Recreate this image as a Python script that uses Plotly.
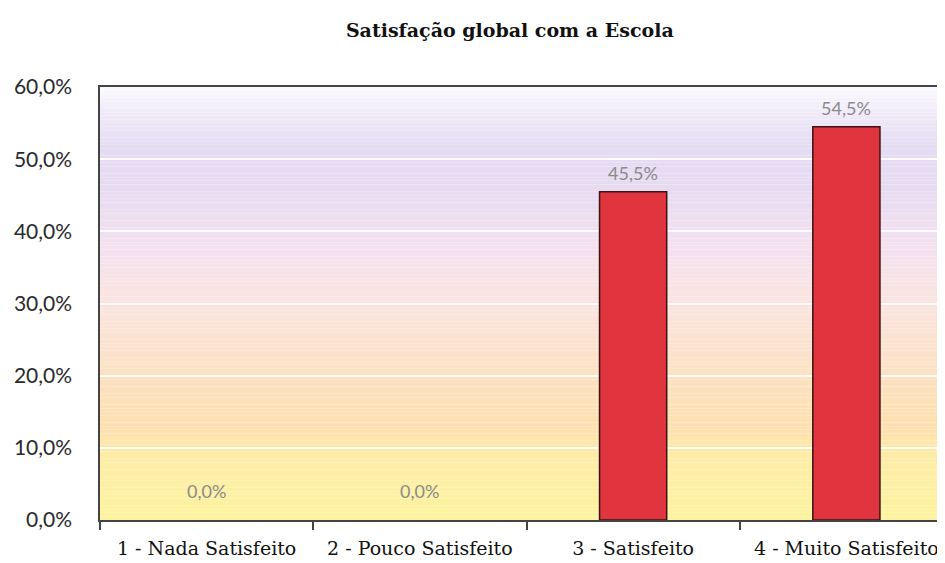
import plotly.graph_objects as go

categorias = ['1 - Nada Satisfeito', '2 - Pouco Satisfeito', '3 - Satisfeito', '4 - Muito Satisfeito']
valores = [0.0, 0.0, 45.5, 54.5]
y_ticks = [0, 10, 20, 30, 40, 50, 60]

# fundo em degradê (amarelo -> pêssego -> rosa -> lilás)
paragens = [
	(0, (253, 243, 158)),
	(9, (253, 236, 168)),
	(13, (253, 224, 176)),
	(22, (252, 226, 200)),
	(30, (250, 228, 224)),
	(38, (244, 225, 239)),
	(46, (231, 219, 242)),
	(52, (228, 220, 243)),
	(57, (242, 237, 249)),
	(60, (251, 249, 253)),
]

def cor(v):
	for (a, ca), (b, cb) in zip(paragens[:-1], paragens[1:]):
		if a <= v <= b:
			t = (v - a) / (b - a)
			c = [round(ca[i] + (cb[i] - ca[i]) * t) for i in range(3)]
			return 'rgb(%d,%d,%d)' % tuple(c)
	return 'rgb(251,249,253)'

faixas = []
passo = 0.5
v = 0.0
while v < 60:
	faixas.append(dict(type='rect', xref='paper', yref='y', x0=0, x1=1, y0=v, y1=v + passo,
		fillcolor=cor(v + passo / 2), line_width=0, layer='below'))
	v += passo

fig = go.Figure()
fig.add_trace(go.Bar(
	x=categorias, y=valores, width=0.315,
	marker=dict(color='#E0343F', line=dict(color='#3a1414', width=[0 if val == 0 else 1.5 for val in valores])),
	hoverinfo='skip'))

anot = []
for c, val in zip(categorias, valores):
	anot.append(dict(x=c, y=val, text=('%.1f%%' % val).replace('.', ','), showarrow=False,
		yanchor='bottom', yshift=6 if val else 16, font=dict(family='Lato', size=18, color='#8a8a8a')))

fig.update_layout(
	width=945, height=563,
	margin=dict(l=92, r=0, t=79, b=51),
	paper_bgcolor='white', plot_bgcolor='white',
	shapes=faixas, annotations=anot, showlegend=False,
	title=dict(text='<b>Satisfação global com a Escola</b>', x=0.531, xanchor='center', y=0.961, yanchor='middle',
		font=dict(family='DejaVu Serif', size=19, color='#111')),
	separators=',.',
)
fig.update_xaxes(range=[-0.5, 3.5], showline=True, linecolor='#444', linewidth=1.5, mirror=True,
	ticks='outside', tickson='boundaries', ticklen=8, tickcolor='#444', tickwidth=1.5,
	ticklabelstandoff=10,
	showgrid=False, tickfont=dict(family='DejaVu Serif', size=19, color='#111'))
fig.update_yaxes(range=[0, 60], tickvals=y_ticks, ticktext=['%s,0%%' % t for t in y_ticks],
	showline=True, linecolor='#444', linewidth=1.5, showgrid=True, gridcolor='rgba(255,255,255,0.9)', gridwidth=1.5,
	zeroline=False, ticks='', ticklabelstandoff=22,
	tickfont=dict(family='Lato', size=21, color='#2a2a2a'))

fig.write_html('out.html')
